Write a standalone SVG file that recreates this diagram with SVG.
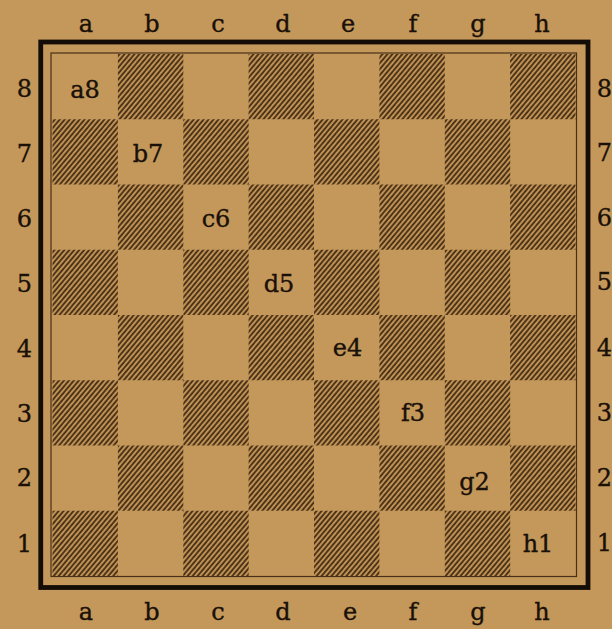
<svg xmlns="http://www.w3.org/2000/svg" width="612" height="629" viewBox="0 0 612 629">
<defs>
<pattern id="hatch" patternUnits="userSpaceOnUse" width="3.8" height="12" patternTransform="rotate(40)">
<rect x="0" y="0" width="3.8" height="12" fill="#bf9155"/>
<line x1="1" y1="0" x2="1" y2="12" stroke="#38230d" stroke-width="1.6"/>
</pattern>
</defs>
<style>
text{font-family:"DejaVu Serif","Liberation Serif",serif;font-size:24px;fill:#1a1008;stroke:#1a1008;stroke-width:0.35;text-anchor:middle}
.dk{fill:url(#hatch)}
</style>
<rect x="0" y="0" width="612" height="629" fill="#c3985a"/>
<g id="frame" fill="none" stroke="#140c06">
<rect x="40.75" y="42" width="547.25" height="545.5" stroke-width="4.8"/>
<rect x="51" y="53" width="525.5" height="523.5" stroke-width="1.2" stroke="#4a3018"/>
</g>
<g id="squares">
<rect class="dk" x="117.9" y="54" width="65.4" height="65.25"/>
<rect class="dk" x="248.6" y="54" width="65.4" height="65.25"/>
<rect class="dk" x="379.4" y="54" width="65.4" height="65.25"/>
<rect class="dk" x="510.1" y="54" width="65.4" height="65.25"/>
<rect class="dk" x="52.5" y="119.25" width="65.4" height="65.25"/>
<rect class="dk" x="183.3" y="119.25" width="65.4" height="65.25"/>
<rect class="dk" x="314" y="119.25" width="65.4" height="65.25"/>
<rect class="dk" x="444.8" y="119.25" width="65.4" height="65.25"/>
<rect class="dk" x="117.9" y="184.5" width="65.4" height="65.25"/>
<rect class="dk" x="248.6" y="184.5" width="65.4" height="65.25"/>
<rect class="dk" x="379.4" y="184.5" width="65.4" height="65.25"/>
<rect class="dk" x="510.1" y="184.5" width="65.4" height="65.25"/>
<rect class="dk" x="52.5" y="249.75" width="65.4" height="65.25"/>
<rect class="dk" x="183.3" y="249.75" width="65.4" height="65.25"/>
<rect class="dk" x="314" y="249.75" width="65.4" height="65.25"/>
<rect class="dk" x="444.8" y="249.75" width="65.4" height="65.25"/>
<rect class="dk" x="117.9" y="315" width="65.4" height="65.25"/>
<rect class="dk" x="248.6" y="315" width="65.4" height="65.25"/>
<rect class="dk" x="379.4" y="315" width="65.4" height="65.25"/>
<rect class="dk" x="510.1" y="315" width="65.4" height="65.25"/>
<rect class="dk" x="52.5" y="380.25" width="65.4" height="65.25"/>
<rect class="dk" x="183.3" y="380.25" width="65.4" height="65.25"/>
<rect class="dk" x="314" y="380.25" width="65.4" height="65.25"/>
<rect class="dk" x="444.8" y="380.25" width="65.4" height="65.25"/>
<rect class="dk" x="117.9" y="445.5" width="65.4" height="65.25"/>
<rect class="dk" x="248.6" y="445.5" width="65.4" height="65.25"/>
<rect class="dk" x="379.4" y="445.5" width="65.4" height="65.25"/>
<rect class="dk" x="510.1" y="445.5" width="65.4" height="65.25"/>
<rect class="dk" x="52.5" y="510.75" width="65.4" height="65.25"/>
<rect class="dk" x="183.3" y="510.75" width="65.4" height="65.25"/>
<rect class="dk" x="314" y="510.75" width="65.4" height="65.25"/>
<rect class="dk" x="444.8" y="510.75" width="65.4" height="65.25"/>
</g>
<g id="square-labels">
<text x="85" y="98">a8</text>
<text x="148" y="162">b7</text>
<text x="216" y="227">c6</text>
<text x="279" y="292">d5</text>
<text x="347.5" y="356">e4</text>
<text x="413" y="421">f3</text>
<text x="474.5" y="490">g2</text>
<text x="538" y="552">h1</text>
</g>
<g id="files-top">
<text x="86" y="32">a</text>
<text x="152" y="32">b</text>
<text x="218" y="32">c</text>
<text x="283" y="32">d</text>
<text x="348" y="32">e</text>
<text x="413" y="32">f</text>
<text x="478" y="32">g</text>
<text x="542" y="32">h</text>
</g>
<g id="files-bottom">
<text x="86" y="620">a</text>
<text x="152" y="620">b</text>
<text x="218" y="620">c</text>
<text x="283" y="620">d</text>
<text x="350" y="620">e</text>
<text x="413" y="620">f</text>
<text x="478" y="620">g</text>
<text x="542" y="620">h</text>
</g>
<g id="ranks-left">
<text x="24.5" y="97">8</text>
<text x="24.5" y="162">7</text>
<text x="24.5" y="227">6</text>
<text x="24.5" y="292">5</text>
<text x="24.5" y="357">4</text>
<text x="24.5" y="422">3</text>
<text x="24.5" y="486">2</text>
<text x="24.5" y="552">1</text>
</g>
<g id="ranks-right">
<text x="604.5" y="97">8</text>
<text x="604.5" y="161">7</text>
<text x="604.5" y="226">6</text>
<text x="604.5" y="290">5</text>
<text x="604.5" y="356">4</text>
<text x="604.5" y="421">3</text>
<text x="604.5" y="486">2</text>
<text x="604.5" y="551">1</text>
</g>
</svg>
